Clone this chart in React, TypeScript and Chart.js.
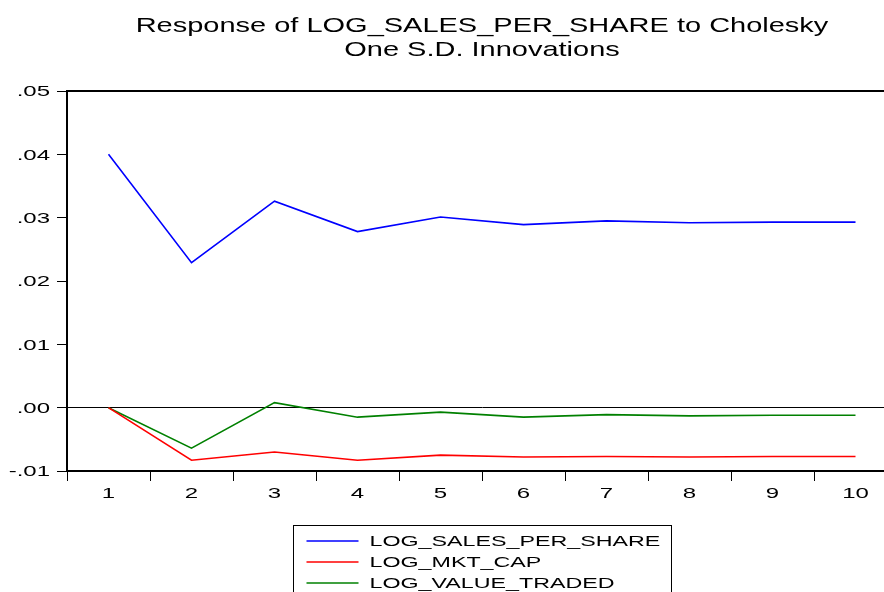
import React, { useEffect, useRef } from "react";
import { Chart, registerables } from "chart.js";

Chart.register(...registerables);

// ---- Data ----
const categories = ["1", "2", "3", "4", "5", "6", "7", "8", "9", "10"];
const salesPerShare = [0.04, 0.0229, 0.0326, 0.0278, 0.0301, 0.0289, 0.0295, 0.0292, 0.0293, 0.0293];
const mktCap = [0, -0.0083, -0.007, -0.0083, -0.0075, -0.0078, -0.0077, -0.0078, -0.0077, -0.0077];
const valueTraded = [0, -0.0064, 0.0008, -0.0015, -0.0007, -0.0015, -0.0011, -0.0013, -0.0012, -0.0012];
const yTickValues = [-0.01, 0, 0.01, 0.02, 0.03, 0.04, 0.05];
const yTickLabels = ["-.01", ".00", ".01", ".02", ".03", ".04", ".05"];
const titleLines = ["Response of LOG_SALES_PER_SHARE to Cholesky", "One S.D. Innovations"];
const seriesNames = ["LOG_SALES_PER_SHARE", "LOG_MKT_CAP", "LOG_VALUE_TRADED"];
const seriesColors = ["#0000ff", "#ff0000", "#008000"];

// ---- Styles ----
const FONT = "'Liberation Sans', Arial, sans-serif";
const TICK_SIZE = 15;
const TICK_SX = 1.6;
const TITLE_SIZE = 21;
const TITLE_SX = 1.38;
const LEGEND_SIZE = 15;
const LEGEND_SX = 1.55;

function drawStretched(
  ctx: CanvasRenderingContext2D,
  text: string,
  x: number,
  y: number,
  sx: number,
  align: CanvasTextAlign
) {
  ctx.save();
  ctx.translate(x, y);
  ctx.scale(sx, 1);
  ctx.textAlign = align;
  ctx.textBaseline = "alphabetic";
  ctx.fillText(text, 0, 0);
  ctx.restore();
}

const eviewsPlugin = {
  id: "eviewsDecor",
  afterDraw(chart: any) {
    const ctx: CanvasRenderingContext2D = chart.ctx;
    const { left, right, top, bottom } = chart.chartArea;
    const cx = (left + right) / 2;
    ctx.save();
    // top frame line
    ctx.strokeStyle = "#000";
    ctx.lineWidth = 2;
    ctx.beginPath();
    ctx.moveTo(left - 1, top);
    ctx.lineTo(right + 1, top);
    ctx.stroke();

    ctx.fillStyle = "#000";
    // y tick labels
    ctx.font = `${TICK_SIZE}px ${FONT}`;
    const ys = chart.scales.y;
    yTickValues.forEach((v, i) => {
      const py = ys.getPixelForValue(v);
      drawStretched(ctx, yTickLabels[i], left - 17, py + 5.4, TICK_SX, "right");
    });
    // x tick labels
    const xs = chart.scales.x;
    categories.forEach((c, i) => {
      const px = xs.getPixelForValue(i);
      drawStretched(ctx, c, px, bottom + 27, TICK_SX, "center");
    });

    // title
    ctx.font = `${TITLE_SIZE}px ${FONT}`;
    drawStretched(ctx, titleLines[0], cx, 32, TITLE_SX, "center");
    drawStretched(ctx, titleLines[1], cx, 56, TITLE_SX, "center");

    // legend box
    const boxW = 378;
    const boxL = Math.round(cx - boxW / 2) + 0.5;
    const boxT = bottom + 54.5;
    ctx.lineWidth = 1;
    ctx.strokeStyle = "#000";
    ctx.strokeRect(boxL, boxT, boxW, 200);
    ctx.font = `${LEGEND_SIZE}px ${FONT}`;
    seriesNames.forEach((name, i) => {
      const rowY = boxT + 15.5 + i * 21;
      ctx.strokeStyle = seriesColors[i];
      ctx.lineWidth = 1.5;
      ctx.beginPath();
      ctx.moveTo(boxL + 13, rowY);
      ctx.lineTo(boxL + 65, rowY);
      ctx.stroke();
      ctx.fillStyle = "#000";
      drawStretched(ctx, name, boxL + 76, rowY + 5.4, LEGEND_SX, "left");
    });
    ctx.restore();
  },
};

export default function App() {
  const canvasRef = useRef<HTMLCanvasElement | null>(null);

  useEffect(() => {
    const canvas = canvasRef.current;
    if (!canvas) return;
    const seriesData = [salesPerShare, mktCap, valueTraded];
    const chart = new Chart(canvas, {
      type: "line",
      data: {
        labels: categories,
        datasets: seriesNames.map((name, i) => ({
          label: name,
          data: seriesData[i],
          borderColor: seriesColors[i],
          backgroundColor: seriesColors[i],
          borderWidth: 1.6,
          pointRadius: 0,
          pointHoverRadius: 0,
          tension: 0,
          fill: false,
        })),
      },
      options: {
        responsive: false,
        animation: false,
        devicePixelRatio: 1,
        layout: { padding: { left: 57, top: 91, bottom: 111, right: 13 } },
        plugins: {
          legend: { display: false },
          title: { display: false },
          tooltip: { enabled: false },
        },
        scales: {
          x: {
            type: "category",
            offset: true,
            ticks: { display: false },
            grid: {
              offset: true,
              drawOnChartArea: false,
              drawTicks: true,
              tickLength: 10,
              tickColor: "#000",
              tickWidth: 1,
            },
            border: { display: true, color: "#000", width: 2 },
          },
          y: {
            type: "linear",
            min: -0.01,
            max: 0.05,
            afterBuildTicks: (s: any) => {
              s.ticks = yTickValues.map((v) => ({ value: v }));
            },
            ticks: { display: false },
            grid: {
              drawOnChartArea: true,
              drawTicks: true,
              tickLength: 10,
              tickColor: "#000",
              tickWidth: 1,
              lineWidth: 1,
              color: (c: any) =>
                c.tick && c.tick.value === 0 ? "#000" : "rgba(0,0,0,0)",
            },
            border: { display: true, color: "#000", width: 2 },
          },
        },
      },
      plugins: [eviewsPlugin],
    });
    return () => chart.destroy();
  }, []);

  return (
    <div
      style={{
        position: "fixed",
        left: 0,
        top: 0,
        width: 884,
        height: 592,
        overflow: "hidden",
        background: "#fff",
      }}
    >
      <canvas ref={canvasRef} width={910} height={592} style={{ display: "block" }} />
    </div>
  );
}
